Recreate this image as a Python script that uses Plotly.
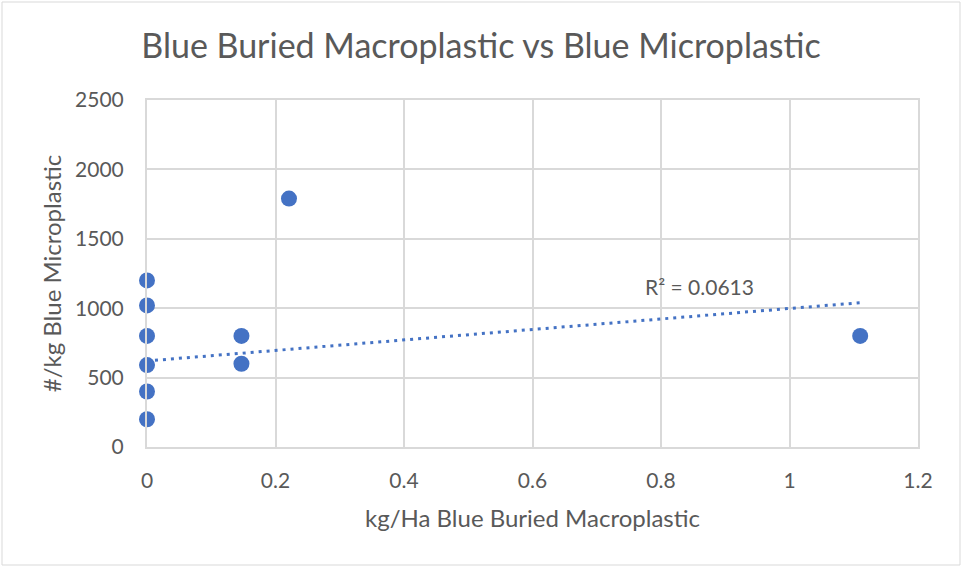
import plotly.graph_objects as go

# ---- data ----
macro_kg_ha = [0, 0, 0, 0, 0, 0, 0.147, 0.147, 0.221, 1.11]
micro_per_kg = [200, 400, 590, 800, 1020, 1200, 800, 600, 1790, 800]

# linear trendline shown in the reference
trend_intercept = 620
trend_slope = 378
r_squared_label = "R² = 0.0613"

x_tick_vals = [0, 0.2, 0.4, 0.6, 0.8, 1.0, 1.2]
x_tick_text = ["0", "0.2", "0.4", "0.6", "0.8", "1", "1.2"]
y_tick_vals = [0, 500, 1000, 1500, 2000, 2500]
y_tick_text = ["0", "500", "1000", "1500", "2000", "2500"]

title_text = "Blue Buried Macroplastic vs Blue Microplastic"
x_title = "kg/Ha Blue Buried Macroplastic"
y_title = "#/kg Blue Microplastic"

# ---- styling ----
BLUE = "#4472C4"
GRID = "#D9D9D9"
TXT = "#595959"
FONT = "Lato"

W, H = 962, 567
L, R, T, B = 147, 918, 100, 447

trend_x = [min(macro_kg_ha), max(macro_kg_ha)]
trend_y = [trend_intercept + trend_slope * v for v in trend_x]

fig = go.Figure()
fig.add_trace(go.Scatter(
    x=trend_x, y=trend_y, mode="lines",
    line=dict(color=BLUE, width=3, dash="3px,5px"),
    hoverinfo="skip", showlegend=False, cliponaxis=False,
))
fig.add_trace(go.Scatter(
    x=macro_kg_ha, y=micro_per_kg, mode="markers",
    marker=dict(color=BLUE, size=16, line=dict(width=0)),
    showlegend=False, cliponaxis=False,
))

fig.add_annotation(
    x=0.86, y=1155, xref="x", yref="y", text=r_squared_label,
    showarrow=False, font=dict(family=FONT, size=21, color=TXT),
)

pw, ph = R - L, B - T
fig.add_shape(
    type="rect", xref="paper", yref="paper", layer="below",
    x0=(2 - L) / pw, x1=(960 - L) / pw,
    y0=(B - 565) / ph, y1=(B - 2) / ph,
    line=dict(color=GRID, width=1), fillcolor="rgba(0,0,0,0)",
)

fig.update_layout(
    width=W, height=H,
    margin=dict(l=L, r=W - R, t=T, b=H - B, pad=0),
    paper_bgcolor="white", plot_bgcolor="white",
    font=dict(family=FONT, color=TXT, size=21),
    title=dict(
        text=title_text, x=0.5, xanchor="center",
        y=1 - 46 / H, yanchor="middle", yref="container",
        font=dict(family=FONT, size=34, color=TXT),
    ),
    xaxis=dict(
        range=[0, 1.2], tickvals=x_tick_vals, ticktext=x_tick_text,
        showgrid=True, gridcolor=GRID, gridwidth=2,
        showline=True, linecolor=GRID, linewidth=2, mirror=True,
        zeroline=False, ticks="", ticklabelstandoff=14,
        tickfont=dict(family=FONT, size=21, color=TXT),
        title=dict(text=x_title, standoff=19,
                   font=dict(family=FONT, size=24, color=TXT)),
    ),
    yaxis=dict(
        range=[0, 2500], tickvals=y_tick_vals, ticktext=y_tick_text,
        showgrid=True, gridcolor=GRID, gridwidth=2,
        showline=True, linecolor=GRID, linewidth=2, mirror=True,
        zeroline=False, ticks="", ticklabelstandoff=17,
        tickfont=dict(family=FONT, size=21, color=TXT),
        title=dict(text=y_title, standoff=7,
                   font=dict(family=FONT, size=24, color=TXT)),
    ),
)

fig.write_html("out.html")
